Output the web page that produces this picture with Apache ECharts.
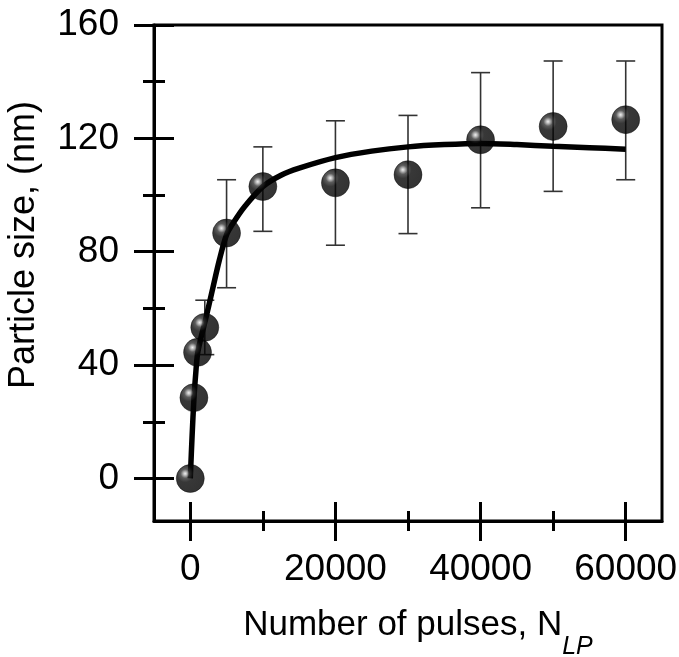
<!DOCTYPE html>
<html>
<head>
<meta charset="utf-8">
<script src="https://cdn.jsdelivr.net/npm/echarts@6/dist/echarts.min.js"></script>
<style>
html,body{margin:0;padding:0;background:#fff;}
#chart{width:679px;height:657px;}
</style>
</head>
<body>
<div id="chart"></div>
<script>
// ---- data ----
const pulses  = [0, 500, 1000, 2000, 5000, 10000, 20000, 30000, 40000, 50000, 60000];
const sizes   = [0, 28.5, 44.5, 53.3, 86.6, 103, 104.3, 107.2, 119.5, 124.2, 126.6];
const errLow  = [null, null, null, 43.7, 67.3, 87.2, 82.3, 86.4, 95.5, 101.3, 105.4];
const errHigh = [null, null, null, 62.9, 105.4, 117, 126.2, 128.1, 143.2, 147.3, 147.3];

const fitX = [0, 250, 500, 750, 1000, 1500, 2000, 3000, 4000, 5000, 6000, 7500, 10000, 12500, 15000, 20000, 25000, 30000, 35000, 40000, 45000, 50000, 55000, 60000];
const fitY = [0, 15, 28, 37, 44, 50, 55, 66, 77, 86, 90.5, 96, 103, 107, 109.5, 113.2, 115.5, 117, 117.8, 118.2, 117.8, 117.2, 116.7, 116.2];

const xMajor = [0, 20000, 40000, 60000];
const xMinor = [10000, 30000, 50000];
const yMajor = [0, 40, 80, 120, 160];
const yMinor = [20, 60, 100, 140];

const FONT = "'Liberation Sans', Arial, sans-serif";
const chart = echarts.init(document.getElementById('chart'));

function xAx(ticks, len, inside, width, withLabel) {
  const ax = {
    type: 'value', min: -5000, max: 65000, position: 'bottom',
    axisLine: { show: withLabel, onZero: false, lineStyle: { color: '#000', width: 3 } },
    axisTick: { show: true, inside: inside, length: len, customValues: ticks, lineStyle: { color: '#000', width: width } },
    axisLabel: { show: withLabel, customValues: ticks, margin: 30, fontSize: 37, color: '#000', fontFamily: FONT,
                 formatter: function (v) { return String(v); } },
    splitLine: { show: false }
  };
  if (withLabel) {
    ax.name = '{a|Number of pulses, N}{s|LP}';
    ax.nameLocation = 'middle';
    ax.nameGap = 87;
    ax.nameTextStyle = {
      padding: [0, 0, 0, 20],
      rich: {
        a: { fontSize: 35, verticalAlign: 'top', color: '#000', fontFamily: FONT },
        s: { fontSize: 25, padding: [27, 0, 0, 0], verticalAlign: 'top', fontStyle: 'italic', color: '#000', fontFamily: FONT }
      }
    };
  }
  return ax;
}
function yAx(ticks, len, inside, width, withLabel) {
  const ax = {
    type: 'value', min: -15, max: 160, position: 'left',
    axisLine: { show: withLabel, onZero: false, lineStyle: { color: '#000', width: 3 } },
    axisTick: { show: true, inside: inside, length: len, customValues: ticks, lineStyle: { color: '#000', width: width } },
    axisLabel: { show: withLabel, customValues: ticks, margin: 35, fontSize: 37, color: '#000', fontFamily: FONT },
    splitLine: { show: false }
  };
  if (withLabel) {
    ax.name = 'Particle size, (nm)';
    ax.nameLocation = 'middle';
    ax.nameGap = 112;
    ax.nameTextStyle = { fontSize: 36, color: '#000', fontFamily: FONT, padding: [0, 0, 0, 56] };
  }
  return ax;
}

const ballColor = new echarts.graphic.RadialGradient(0.32, 0.33, 0.72, [
  { offset: 0, color: '#ececec' },
  { offset: 0.08, color: '#b0b0b0' },
  { offset: 0.22, color: '#333' },
  { offset: 0.42, color: '#060606' },
  { offset: 1, color: '#000' }
]);

const errData = [];
for (let i = 0; i < pulses.length; i++) {
  if (errLow[i] != null) errData.push([pulses[i], errLow[i], errHigh[i]]);
}

chart.setOption({
  animation: false,
  backgroundColor: '#fff',
  grid: { left: 154, right: 17, top: 25, bottom: 136, containLabel: false, outerBoundsMode: 'none',
          show: true, borderColor: '#000', borderWidth: 3, backgroundColor: 'transparent' },
  xAxis: [
    xAx(xMajor, 20, false, 3, true),
    xAx(xMajor, 19, true, 3, false),
    xAx(xMinor, 10, false, 3, false),
    xAx(xMinor, 10, true, 3, false)
  ],
  yAxis: [
    yAx(yMajor, 20, false, 3, true),
    yAx(yMajor, 20, true, 3, false),
    yAx(yMinor, 11, false, 3, false),
    yAx(yMinor, 11, true, 3, false)
  ],
  series: [
    {
      type: 'custom',
      z: 1,
      data: errData,
      renderItem: function (params, api) {
        const x = api.value(0);
        const lo = api.coord([x, api.value(1)]);
        const hi = api.coord([x, api.value(2)]);
        const w = 9.5;
        const st = { stroke: '#333', lineWidth: 1.6 };
        return {
          type: 'group',
          children: [
            { type: 'line', shape: { x1: lo[0], y1: lo[1], x2: hi[0], y2: hi[1] }, style: st },
            { type: 'line', shape: { x1: hi[0] - w, y1: hi[1], x2: hi[0] + w, y2: hi[1] }, style: st },
            { type: 'line', shape: { x1: lo[0] - w, y1: lo[1], x2: lo[0] + w, y2: lo[1] }, style: st }
          ]
        };
      }
    },
    {
      type: 'line',
      z: 2,
      data: fitX.map((x, i) => [x, fitY[i]]),
      smooth: 0.3,
      showSymbol: false,
      lineStyle: { color: '#000', width: 5.5 }
    },
    {
      type: 'scatter',
      z: 3,
      data: pulses.map((x, i) => [x, sizes[i]]),
      symbol: 'circle',
      symbolSize: 28,
      itemStyle: { color: ballColor, borderColor: '#000', borderWidth: 0.5 }
    }
  ]
});
</script>
</body>
</html>
